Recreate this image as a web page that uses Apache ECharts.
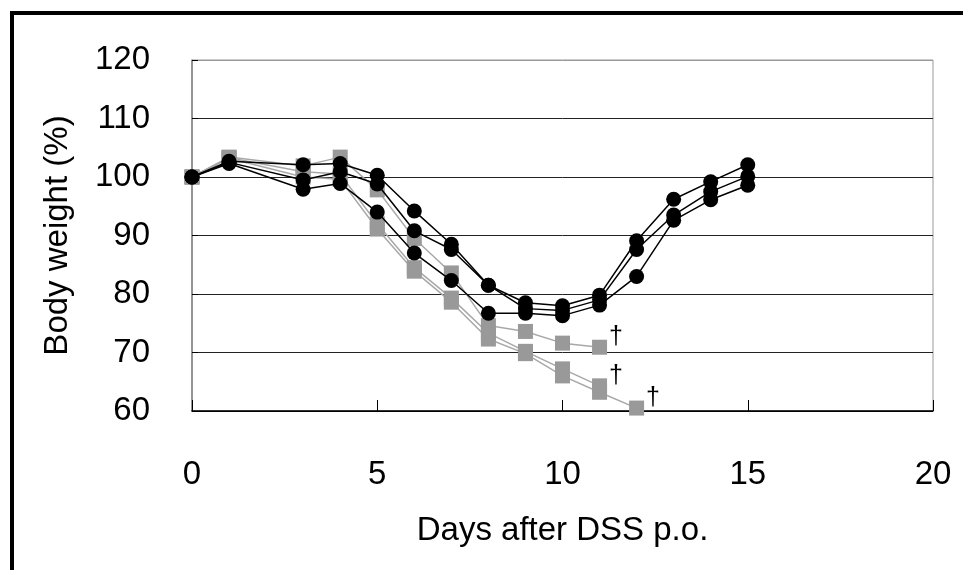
<!DOCTYPE html>
<html>
<head>
<meta charset="utf-8">
<script src="https://cdn.jsdelivr.net/npm/echarts@6/dist/echarts.min.js"></script>
<style>
  html, body { margin: 0; padding: 0; background: #fff; }
  #chart { width: 963px; height: 570px; }
</style>
</head>
<body>
<div id="chart"></div>
<script>
  // days after DSS p.o.
  var days = [0, 1, 3, 4, 5, 6, 7, 8, 9, 10, 11, 12, 13, 14, 15]
  // black circles (survivors)
  var black1 = [100, 102.7, 102.1, 102.3, 100.3, 94.2, 88.5, 81.5, 78.5, 78.0, 79.8, 89.1, 96.2, 99.2, 102.1]
  var black2 = [100, 102.5, 99.5, 100.9, 98.8, 90.8, 87.6, 81.5, 77.5, 77.2, 79.0, 87.6, 93.5, 97.5, 100.1]
  var black3 = [100, 102.3, 97.9, 98.9, 94.0, 87.0, 82.3, 76.7, 76.7, 76.3, 78.1, 83.0, 92.6, 96.1, 98.6]
  // grey squares (died, marked with dagger)
  var gray1 = [100, 103.4, 101.9, 103.4, 97.8, 89.5, 83.6, 74.6, 73.6, 71.6, 70.9]
  var gray2 = [100, 103.3, 100.9, 100.5, 92.0, 84.5, 79.3, 73.3, 70.2, 67.2, 64.3]
  var gray3 = [100, 103.2, 100.0, 99.6, 91.1, 83.9, 78.6, 72.3, 69.8, 66.0, 63.2, 60.5]
  var deathMark = '†'

  var font = '"Liberation Sans", Arial, sans-serif'

  function pairs(vals, dagger) {
    var out = []
    for (var i = 0; i < vals.length; i++) {
      var item = { value: [days[i], vals[i]] }
      if (dagger && i === vals.length - 1) {
        item.label = {
          show: true,
          formatter: deathMark,
          position: 'right',
          distance: 2,
          offset: [0, -10],
          color: '#000',
          fontSize: 25,
          fontFamily: font,
        }
      }
      out.push(item)
    }
    return out
  }

  function graySeries(vals) {
    return {
      type: 'line',
      data: pairs(vals, true),
      symbol: 'rect',
      symbolSize: 15,
      itemStyle: { color: '#999999' },
      lineStyle: { color: '#a8a8a8', width: 1.5 },
      z: 2,
    }
  }

  function blackSeries(vals) {
    return {
      type: 'line',
      data: pairs(vals, false),
      symbol: 'circle',
      symbolSize: 15,
      itemStyle: { color: '#000' },
      lineStyle: { color: '#000', width: 1.5 },
      z: 3,
    }
  }

  var chart = echarts.init(document.getElementById('chart'))
  var option = {
    animation: false,
    backgroundColor: '#fff',
    graphic: [
      {
        type: 'rect',
        shape: { x: 12, y: 13, width: 1000, height: 700 },
        style: { fill: 'none', stroke: '#000', lineWidth: 4 },
        silent: true,
      },
    ],
    grid: {
      left: 192,
      top: 60,
      right: 30,
      bottom: 159,
      show: true,
      borderColor: '#999',
      borderWidth: 1,
    },
    xAxis: {
      type: 'value',
      min: 0,
      max: 20,
      interval: 5,
      name: 'Days after DSS p.o.',
      nameLocation: 'middle',
      nameGap: 103,
      nameTextStyle: { color: '#000', fontSize: 33, fontFamily: font },
      axisLine: { onZero: false, lineStyle: { color: '#000', width: 1.5 } },
      axisTick: { inside: true, length: 11, lineStyle: { color: '#000' } },
      axisLabel: { margin: 47, color: '#000', fontSize: 33, fontFamily: font },
      splitLine: { show: false },
    },
    yAxis: {
      type: 'value',
      min: 60,
      max: 120,
      interval: 10,
      name: 'Body weight (%)',
      nameLocation: 'middle',
      nameGap: 118,
      nameTextStyle: { color: '#000', fontSize: 33, fontFamily: font },
      axisLine: { show: true, lineStyle: { color: '#808080', width: 1.5 } },
      axisTick: { inside: true, length: 6, lineStyle: { color: '#000' } },
      axisLabel: { margin: 42, color: '#000', fontSize: 33, fontFamily: font },
      splitLine: {
        show: true,
        lineStyle: { color: ['#000', '#222', '#222', '#222', '#222', '#222', '#999'], width: 1 },
      },
    },
    series: [
      graySeries(gray1),
      graySeries(gray2),
      graySeries(gray3),
      blackSeries(black1),
      blackSeries(black2),
      blackSeries(black3),
    ],
  }
  chart.setOption(option)
</script>
</body>
</html>
